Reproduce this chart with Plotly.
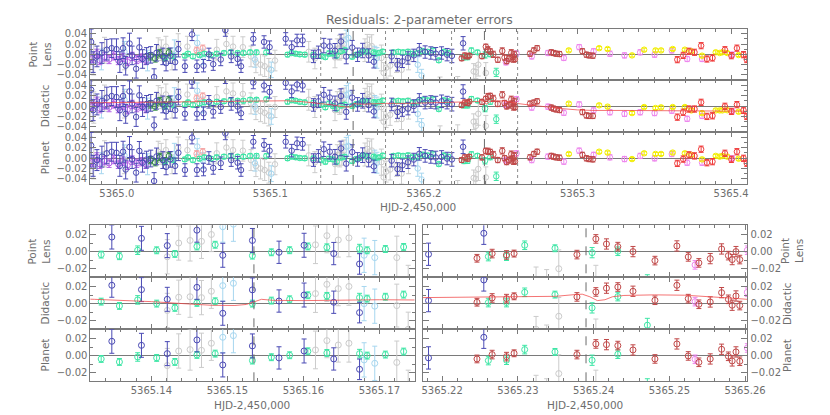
import plotly.graph_objects as go

# ---------------- data ----------------
# dark blue
DB_X = [5364.9833, 5364.9846, 5364.9871, 5364.9903, 5364.9935, 5364.9967, 5364.9998, 5365.0020, 5365.0041, 5365.0058,
        5365.0083, 5365.0100, 5365.0126, 5365.0147, 5365.0168, 5365.0194, 5365.0221, 5365.0243, 5365.0259, 5365.0300,
        5365.0321, 5365.0348, 5365.0380, 5365.0401,
        5365.0444, 5365.0490, 5365.0522, 5365.0565, 5365.0600, 5365.0628, 5365.0677, 5365.0707, 5365.0745, 5365.0787,
        5365.0809, 5365.0889, 5365.0959, 5365.0995, 5365.1100, 5365.1139, 5365.1174, 5365.1210, 5365.1281, 5365.1313,
        5365.1348, 5365.1387, 5365.1421, 5365.1460, 5365.1494, 5365.1533, 5365.1568, 5365.1601, 5365.1640, 5365.1674,
        5365.1790, 5365.1828, 5365.1860, 5365.1896, 5365.1934, 5365.1970, 5365.2008, 5365.2045, 5365.2077, 5365.2115,
        5365.2151, 5365.2182, 5365.2255]
DB_E = [.025, .02, .02, .02, .02, .018, .02, .02, .02, .018, .02, .018, .018, .018, .018, .016, .016, .016, .016, .016,
        .015, .015, .015, .015,
        .012, .012, .012, .012, .012, .012, .012, .012, .012, .012, .012, .012, .012, .012, .012, .012, .012, .012, .012, .012,
        .014, .014, .014, .014, .014, .014, .013, .014, .013, .012,
        .012, .012, .012, .012, .012, .012, .012, .012, .012, .012, .012, .013, .013]
DB_PL = [.024, -.015, -.004, .0026, .009, .012, .010, -.015, .012, -.022, .021, -.002, -.028, .0135, -.009, -.003, -.001,
         -.044, .003, -.004, -.017, -.0026, -.015, .010,
         -.023, .0387, -.023, -.022, .000, -.019, -.010, .047, -.004, -.009, -.023, .030, .024, .014, .030, .014, .027, .027,
         -.004, .004,
         .017, .0155, .007, .025, -.0043, .013, -.0008, .0074, -.0023, -.0144,
         -.004, -.020, -.0135, -.007, -.002, .009, .0045, .0026, .0013, .0026, -.0006, -.0031, .0214]
DB_DI = [.031, -.008, .003, .0096, .016, .019, .017, -.008, .019, -.015, .028, .005, -.021, .0205, -.002, .004, .006,
         -.037, .010, .003, -.010, .0044, -.008, .017,
         -.015, .046, -.015, -.014, .008, -.011, -.002, .055, .004, -.001, -.014, .045, .039, .027, .044, .028, .041, .039,
         .002, .009,
         .0214, .0163, .005, .019, -.0113, .016, .003, .010, .0016, -.0105,
         .003, -.0116, -.0077, -.005, .000, .0116, .0065, .0077, .0065, .009, .0065, .0035, .0276]
DB_PN = [.024, -.015, -.004, .0026, .009, .012, .010, -.015, .012, -.022, .021, -.002, -.028, .0135, -.009, -.003, -.001,
         -.044, .003, -.004, -.017, -.0026, -.015, .010,
         -.023, .039, -.023, -.022, .000, -.019, -.010, .047, -.004, -.009, -.023, .031, .025, .014, .031, .014, .028, .027,
         -.004, .004,
         .0167, .012, .0023, .0183, -.0109, .0113, -.0027, .0054, -.0039, -.016,
         -.005, -.021, -.014, -.008, -.003, .008, .004, .002, .001, .002, -.001, -.0027, .0214]

# aquamarine
AQ_X = [5365.0316, 5365.0369, 5365.0443, 5365.0464, 5365.0496, 5365.0539, 5365.0570, 5365.0613, 5365.0651, 5365.0698,
        5365.0741, 5365.0787, 5365.0825, 5365.0868, 5365.0910, 5365.0974, 5365.1112, 5365.1139, 5365.1165, 5365.1192,
        5365.1224, 5365.1281,
        5365.1334, 5365.1358, 5365.1382, 5365.1407, 5365.1431, 5365.1460, 5365.1484, 5365.1533, 5365.1558, 5365.1582,
        5365.1606, 5365.1631, 5365.1674, 5365.1684, 5365.1708, 5365.1732,
        5365.1801, 5365.1833, 5365.1864, 5365.1896, 5365.1928, 5365.1960, 5365.1992, 5365.2023, 5365.2059, 5365.2097,
        5365.2129, 5365.2157,
        5365.2261, 5365.2285, 5365.2309, 5365.2349, 5365.2398, 5365.2432, 5365.2471]
AQ_E = [.004] * 22 + [.004, .004, .005, .004, .004, .004, .004, .004, .004, .004, .004, .004, .005, .004, .004, .004] \
       + [.004] * 12 + [.005, .005, .005, .004, .006, .005, .008]
AQ_PL = [-.007, -.004, -.0026, .0013, -.004, -.0013, .0013, -.0013, .0013, .0026, .004, .0026, .0026, .004, .004, .004,
         -.0006, .0026, .0013, .000, -.0006, -.0006,
         -.0035, -.0054, .0016, .0015, -.0027, .006, .008, -.0047, -.0008, .0016, .006, .005, .0035, .0015, .003, .0054,
         .004, .005, .004, .005, .0013, .0026, .0065, .005, .0077, -.0116, .005, .0026,
         -.0058, -.0054, .0074, .0039, -.0012, .0004, -.035]
AQ_DI = [-.001, .002, .0035, .007, .002, .005, .007, .005, .008, .009, .011, .010, .010, .012, .012, .013, .008, .011,
         .010, .008, .007, .006,
         .0023, -.0027, .0043, .000, -.005, .0008, .0027, .000, .0035, .005, .0097, .009, .007, .0058, .008, .0105,
         .009, .010, .009, .010, .006, .008, .012, .011, .013, -.006, .011, .009,
         .0012, .0012, .0132, .0105, -.005, .0082, -.0252]
AQ_PN = [-.007, -.004, -.0026, .0013, -.004, -.0013, .0013, -.0013, .0013, .0026, .004, .0026, .0026, .004, .004, .004,
         -.0006, .0026, .0013, .000, -.0006, -.0006,
         -.0039, -.0074, -.0016, -.0027, -.0074, .0008, .0023, -.0058, -.0019, .0004, .005, .0031, .0023, .000, .0012, .0047,
         .004, .005, .004, .005, .0013, .0026, .0065, .005, .0077, -.0116, .005, .0026,
         -.0058, -.0054, .007, .0043, -.0054, .0016, -.035]

# light grey
GR_X = [5364.9830, 5364.9850, 5364.9920, 5365.0050, 5365.0270, 5365.0290, 5365.0320, 5365.0360, 5365.0400, 5365.0460,
        5365.0651, 5365.0714, 5365.0757, 5365.0821, 5365.0874, 5365.0906, 5365.0936, 5365.0963, 5365.0990, 5365.1030,
        5365.1250, 5365.1290,
        5365.1421, 5365.1436, 5365.1451, 5365.1466, 5365.1479, 5365.1616, 5365.1631, 5365.1646, 5365.1660, 5365.1723,
        5365.1738,
        5365.1754, 5365.1780, 5365.1822, 5365.1854, 5365.1900, 5365.2105, 5365.2220,
        5365.2324, 5365.2338, 5365.2354, 5365.2403]
GR_E = [.038, .03, .025, .025, .02, .02, .02, .018, .02, .02, .02, .02, .02, .02, .02, .02, .02, .02, .02, .02, .02, .02,
        .02, .02, .024, .02, .02, .022, .02, .02, .022, .025, .02,
        .02, .02, .02, .02, .02, .02, .02,
        .015, .013, .022, .02]
GR_PL = [.002, -.010, .008, -.005, .012, .008, .015, -.012, .020, .015, .009, .020, .015, .014, -.004, -.0155, -.020,
         -.023, -.028, -.012, .005, -.008,
         -.006, .010, .013, .012, .020, .008, .0186, .0136, .016, -.007, -.036,
         -.026, -.022, -.015, -.030, -.010, -.064, -.063,
         -.033, -.034, -.020, -.036]
GR_DI = [.009, -.003, .015, .002, .019, .015, .022, -.005, .027, .022, .017, .028, .024, .023, .005, -.006, -.010, -.013,
         -.018, -.002, .012, -.002,
         -.008, .0074, .008, .007, .0144, .0117, .0225, .0175, .020, -.0023, -.030,
         -.021, -.017, -.010, -.025, -.005, -.058, -.056,
         -.030, -.038, -.0148, -.038]
GR_PN = [.002, -.010, .008, -.005, .012, .008, .015, -.012, .020, .015, .009, .020, .015, .014, -.004, -.0155, -.020,
         -.023, -.028, -.012, .005, -.008,
         -.0116, .0054, .007, .0062, .0144, .0066, .0175, .0124, .0144, -.008, -.037,
         -.026, -.022, -.015, -.030, -.010, -.064, -.063,
         -.038, -.040, -.021, -.037]

# light blue
LB_X = [5364.9900, 5365.0050, 5365.0200, 5365.0375, 5365.0524, 5365.0560, 5365.0900, 5365.1006, 5365.1494, 5365.1508,
        5365.1680, 5365.1694, 5365.1960, 5365.1985]
LB_E = [.02, .02, .02, .02, .015, .015, .015, .015, .018, .02, .02, .02, .015, .012]
LB_PL = [-.010, .005, -.012, .008, .022, -.005, -.010, -.030, .029, .032, -.0043, -.007, -.020, -.041]
LB_DI = [-.003, .012, -.005, .015, .029, .002, -.001, -.020, .021, .0237, .000, -.003, -.015, -.036]
LB_PN = [-.010, .005, -.012, .008, .022, -.005, -.010, -.030, .0214, .0233, -.005, -.009, -.020, -.041]

# purple (early points)
PU_X = [5364.9840, 5364.9870, 5364.9890, 5364.9920, 5364.9950, 5364.9980, 5365.0010, 5365.0040, 5365.0070, 5365.0100,
        5365.0130, 5365.0160, 5365.0190]
PU_E = [.008] * 13
PU_PL = [-.008, .002, -.012, -.005, -.010, -.003, -.012, -.006, -.014, -.004, -.010, -.007, -.012]
PU_DI = [-.001, .009, -.005, .002, -.003, .004, -.005, .001, -.007, .003, -.003, .000, -.005]
PU_PN = [-.008, .002, -.012, -.005, -.010, -.003, -.012, -.006, -.014, -.004, -.010, -.007, -.012]

# dark green
GN_X = [5365.0220, 5365.0250, 5365.0280, 5365.0310, 5365.0340]
GN_E = [.007] * 5
GN_PL = [-.004, -.008, .002, -.006, .004]
GN_DI = [.003, -.001, .009, .001, .011]
GN_PN = [-.004, -.008, .002, -.006, .004]

# salmon pink
PK_X = [5365.0520, 5365.0560]
PK_E = [.006, .006]
PK_PL = [.008, .012]
PK_DI = [.015, .019]
PK_PN = [.008, .012]

# brown-red
BR_X = [5365.2246, 5365.2266, 5365.2285, 5365.2295, 5365.2378, 5365.2403, 5365.2417, 5365.2432, 5365.2452, 5365.2481,
        5365.2510, 5365.2525, 5365.2539, 5365.2554, 5365.2569, 5365.2578, 5365.2583, 5365.2588, 5365.2593,
        5365.2691, 5365.2716, 5365.2737, 5365.2829, 5365.2844, 5365.2861, 5365.2883, 5365.3032, 5365.3058, 5365.3075,
        5365.3100]
BR_E = [.0045, .005, .005, .004, .005, .005, .006, .005, .006, .005, .006, .005, .005, .006, .006, .005, .006, .006, .005,
        .005, .005, .005, .005, .005, .005, .005, .005, .005, .005, .005]
BR_PL = [-.0078, -.0023, -.0039, -.0023, -.0035, .0148, .0089, .0058, .000, -.0105, .0066, -.0062, -.0132, -.0082, .0031,
         -.0047, -.0093, .000, -.0093,
         .0013, .0077, .012, .004, .0026, .0013, .0006, .006, -.0006, -.002, -.0026]
BR_DI = [.0016, .0066, .0058, .0085, .0078, .0136, .018, .0194, .0144, .0039, .0214, .0058, -.0008, .0019, .0128, .005,
         -.0019, .0089, -.0023,
         .0045, .0065, .009, -.003, -.005, -.0065, -.0077, -.0116, -.018, -.019, -.019]
BR_PN = [-.0039, .0012, -.0012, .0027, .0012, .0136, .0128, .0117, .0066, -.0039, .0136, -.0004, -.0078, -.0039, .0074,
         -.0008, -.0062, .0043, -.0066,
         .0013, .0077, .012, .004, .0026, .0013, .0006, .006, -.0006, -.002, -.0026]

# violet
VI_X = [5365.2534, 5365.2603, 5365.2702, 5365.2808, 5365.2911, 5365.3011, 5365.3105, 5365.3211, 5365.3306, 5365.3408,
        5365.3502, 5365.3614, 5365.3714, 5365.3811, 5365.4007]
VI_E = [.005] * 15
VI_PL = [-.0155, .0016, -.004, .0026, -.007, .014, .006, .0013, -.002, .004, -.0006, .0077, -.009, -.009, -.0006]
VI_DI = [.0023, .0132, -.003, -.0013, -.013, .003, -.0084, -.012, -.015, -.012, -.0135, -.009, -.0245, -.019, -.0103]
VI_PN = [-.0043, .0089, -.004, .0026, -.007, .014, .006, .0013, -.002, .004, -.0006, .0077, -.009, -.009, -.0006]

# yellow
YE_X = [5365.2943, 5365.3141, 5365.3196, 5365.3355, 5365.3434, 5365.3508, 5365.3544, 5365.3620, 5365.3699, 5365.3741,
        5365.3811, 5365.3900, 5365.3926, 5365.3943, 5365.3975, 5365.4049]
YE_E = [.003] * 16
YE_PL = [.0077, .012, .0103, -.002, .009, .0077, .0077, .0103, .009, .006, -.0026, .004, .0026, .004, .0026, -.0013]
YE_DI = [.0045, .0013, -.0013, -.0135, -.002, -.0039, -.0026, -.002, -.002, -.0084, -.0135, -.0084, -.0084, -.0084,
         -.008, -.011]
YE_PN = [.0077, .012, .0103, -.002, .009, .0077, .0077, .0103, .009, .006, -.0026, .004, .0026, .004, .0026, -.0013]

# bright red
RD_X = [5365.3650, 5365.3688, 5365.3726, 5365.3762, 5365.3805, 5365.3843, 5365.3879, 5365.3960, 5365.4002, 5365.4038,
        5365.4081, 5365.4102]
RD_E = [.006] * 12
RD_PL = [-.0103, -.002, .006, .004, .0168, -.009, -.007, .009, -.0026, .012, -.0006, -.010]
RD_DI = [-.0213, -.012, -.0058, -.0058, .007, -.0199, -.0187, -.0006, -.0103, .0026, -.0084, -.0199]
RD_PN = [-.0103, -.002, .006, .004, .0168, -.009, -.007, .009, -.0026, .012, -.0006, -.010]

# didactic model curve
CURVE_X = [5364.98, 5365.00, 5365.03, 5365.06, 5365.09, 5365.11, 5365.12, 5365.1325, 5365.14, 5365.145, 5365.148,
           5365.151, 5365.1525, 5365.1535, 5365.1545, 5365.156, 5365.16, 5365.17, 5365.175, 5365.19, 5365.20,
           5365.2174, 5365.225, 5365.235, 5365.2375, 5365.2385, 5365.2395, 5365.2405, 5365.2415, 5365.2425, 5365.244,
           5365.248, 5365.252, 5365.255, 5365.258, 5365.2603, 5365.27, 5365.28, 5365.29, 5365.30, 5365.31, 5365.33,
           5365.36, 5365.38, 5365.40, 5365.411]
CURVE_Y = [.006, .0065, .007, .008, .0095, .010, .0085, .005, .0023, -.0005, -.002, -.0022, -.001, .002, .005, .0038,
           .0035, .0045, .005, .005, .006, .007, .0075, .0085, .0105, .011, .008, .0035, .0045, .008, .0095, .0102,
           .0098, .0085, .0065, .005, .0015, -.002, -.005, -.0075, -.0085, -.0085, -.009, -.009, -.0095, -.010]

ROW_LABELS = ["Point<br>Lens", "Didactic", "Planet"]
TOP_XTICKS = [5365.0, 5365.1, 5365.2, 5365.3, 5365.4]
BL_XTICKS = [5365.14, 5365.15, 5365.16, 5365.17]
BR_XTICKS = [5365.22, 5365.23, 5365.24, 5365.25, 5365.26]
TOP_YTICKS = [-0.04, -0.02, 0.0, 0.02, 0.04]
BOT_YTICKS = [-0.02, 0.0, 0.02]
TITLE = "Residuals: 2-parameter errors"
XTITLE = "HJD-2,450,000"

SERIES = [
    ("#cbcbcb", GR_X, GR_E, (GR_PL, GR_DI, GR_PN)),
    ("#a6d6ef", LB_X, LB_E, (LB_PL, LB_DI, LB_PN)),
    ("#b45ee6", PU_X, PU_E, (PU_PL, PU_DI, PU_PN)),
    ("#2e8b3e", GN_X, GN_E, (GN_PL, GN_DI, GN_PN)),
    ("#f4a4a4", PK_X, PK_E, (PK_PL, PK_DI, PK_PN)),
    ("#3ee6a6", AQ_X, AQ_E, (AQ_PL, AQ_DI, AQ_PN)),
    ("#ee88ee", VI_X, VI_E, (VI_PL, VI_DI, VI_PN)),
    ("#f2ee00", YE_X, YE_E, (YE_PL, YE_DI, YE_PN)),
    ("#c04848", BR_X, BR_E, (BR_PL, BR_DI, BR_PN)),
    ("#f03c3c", RD_X, RD_E, (RD_PL, RD_DI, RD_PN)),
    ("#4a4ab4", DB_X, DB_E, (DB_PL, DB_DI, DB_PN)),
]

# ---------------- layout geometry ----------------
W, H = 830, 415
def fx(p): return p / W
def fy(p): return 1 - p / H

PANEL_XPIX = [(83.0, 755.7), (83.3, 415.0), (423.3, 755.7)]
TOP_ROWS = [(20.7, 72.0), (72.0, 124.0), (124.0, 176.0)]
BOT_ROWS = [(217.3, 269.3), (269.3, 321.3), (321.3, 373.3)]
PANEL_ROWS = [TOP_ROWS, BOT_ROWS, BOT_ROWS]
PANEL_XRANGE = [(5364.98263, 5365.41063), (5365.13198, 5365.17463), (5365.21742, 5365.26031)]
PANEL_YRANGE = [(-0.0497, 0.0497), (-0.0300, 0.0307), (-0.0300, 0.0307)]
PANEL_XTICKS = [TOP_XTICKS, BL_XTICKS, BR_XTICKS]
PANEL_XFMT = ["{:.1f}", "{:.2f}", "{:.2f}"]
PANEL_XMINOR = [0.01, 0.002, 0.002]
PANEL_YTICKS = [TOP_YTICKS, BOT_YTICKS, BOT_YTICKS]

TXT = "#6e6e6e"
AX = "#7a7a7a"
FONT = "DejaVu Sans"
TICKSIZE = 10


def yfmt(v):
    s = "{:.2f}".format(abs(v))
    return ("\u2212" + s) if v < 0 else s


fig = go.Figure()
layout = dict(width=W, height=H, margin=dict(l=0, r=0, t=0, b=0), paper_bgcolor="white",
              plot_bgcolor="white", showlegend=False, font=dict(family=FONT, color=TXT, size=TICKSIZE))

for p in range(3):
    x0, x1 = PANEL_XPIX[p]
    for r in range(3):
        i = p * 3 + r + 1
        xa = "xaxis" if i == 1 else f"xaxis{i}"
        ya = "yaxis" if i == 1 else f"yaxis{i}"
        xr = "x" if i == 1 else f"x{i}"
        yr = "y" if i == 1 else f"y{i}"
        t, b = PANEL_ROWS[p][r]
        layout[xa] = dict(domain=[fx(x0), fx(x1)], range=list(PANEL_XRANGE[p]), anchor=yr,
                          showline=True, linecolor=AX, linewidth=1, mirror="allticks",
                          ticks="inside", ticklen=5, tickcolor=AX, showgrid=False, zeroline=False,
                          tickmode="array", tickvals=PANEL_XTICKS[p],
                          ticktext=[PANEL_XFMT[p].format(v) for v in PANEL_XTICKS[p]],
                          showticklabels=(r == 2), tickfont=dict(size=TICKSIZE, color=TXT, family=FONT),
                          minor=dict(ticks="inside", ticklen=3, tickcolor=AX, dtick=PANEL_XMINOR[p],
                                     tick0=PANEL_XTICKS[p][0], showgrid=False))
        yt = PANEL_YTICKS[p]
        layout[ya] = dict(domain=[fy(b), fy(t)], range=list(PANEL_YRANGE[p]), anchor=xr,
                          side="right" if p == 2 else "left",
                          showline=True, linecolor=AX, linewidth=1, mirror="allticks",
                          ticks="inside", ticklen=6, tickcolor=AX, showgrid=False,
                          zeroline=True, zerolinecolor="#7a7a7a", zerolinewidth=1,
                          tickmode="array", tickvals=yt, ticktext=[yfmt(v) for v in yt],
                          tickfont=dict(size=TICKSIZE, color=TXT, family=FONT),
                          minor=dict(ticks="inside", ticklen=3, tickcolor=AX, dtick=0.01, tick0=0,
                                     showgrid=False))
        for col, xs, es, ys in SERIES:
            fig.add_trace(go.Scatter(
                x=xs, y=ys[r], mode="markers", xaxis=xr, yaxis=yr,
                marker=dict(symbol="circle-open", size=6 if p else 5.5, color=col, line=dict(width=1, color=col)),
                error_y=dict(type="data", array=es, color=col, thickness=1, width=2.5),
                hoverinfo="skip"))
        if r == 1:
            fig.add_trace(go.Scatter(x=CURVE_X, y=CURVE_Y, mode="lines", xaxis=xr, yaxis=yr,
                                     line=dict(color="rgba(240,70,70,0.75)", width=1), hoverinfo="skip"))

# vertical marker lines
shapes = []
def vline(x, xref, ytop, ybot, dash, color):
    shapes.append(dict(type="line", xref=xref, yref="paper", x0=x, x1=x, y0=fy(ybot), y1=fy(ytop),
                       line=dict(color=color, width=1, dash=dash)))

for xv in [5365.1328, 5365.175, 5365.218, 5365.261]:
    vline(xv, "x", 20.7, 176.0, "dot", "#8c8c8c")
for xv in [5365.1539, 5365.2394]:
    vline(xv, "x", 20.7, 176.0, "dash", "#6a6a6a")
vline(5365.1535, "x4", 217.3, 373.3, "dash", "#6a6a6a")
vline(5365.2390, "x7", 217.3, 373.3, "dash", "#6a6a6a")
layout["shapes"] = shapes

ann = []
def label(text, x, y, angle=0, size=10):
    ann.append(dict(text=text, x=fx(x), y=fy(y), xref="paper", yref="paper", showarrow=False,
                    textangle=angle, font=dict(size=size, color=TXT, family=FONT),
                    xanchor="center", yanchor="middle"))

label(TITLE, 420, 11, 0, 12.5)
label(XTITLE, 419, 199, 0, 10.5)
label(XTITLE, 249, 397, 0, 10.5)
label(XTITLE, 589, 397, 0, 10.5)
for r, (t, b) in enumerate(TOP_ROWS):
    label(ROW_LABELS[r], 32 if r == 0 else 37, (t + b) / 2, -90, 10.5)
for r, (t, b) in enumerate(BOT_ROWS):
    label(ROW_LABELS[r], 31 if r == 0 else 37, (t + b) / 2, -90, 10.5)
    label(ROW_LABELS[r], 802 if r == 0 else 797, (t + b) / 2, -90, 10.5)
layout["annotations"] = ann

fig.update_layout(**layout)
fig.write_html("out.html")
